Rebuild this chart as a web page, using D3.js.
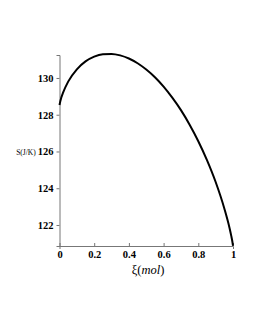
<!DOCTYPE html>
<html>
<head>
<meta charset="utf-8">
<script src="https://cdn.jsdelivr.net/npm/d3@7"></script>
<style>
body { margin: 0; background: #fff; }
.tick text { font-family: "Liberation Serif", "Times New Roman", serif; font-weight: bold; font-size: 10.5px; fill: #000; }
.domain, .tick line { stroke: #777; }
</style>
</head>
<body>
<script>
// extent of reaction (mol) and entropy S (J/K)
var xi = [0, 0.005, 0.01, 0.02, 0.05, 0.1, 0.15, 0.2, 0.25, 0.3, 0.35, 0.4, 0.45, 0.5,
    0.55, 0.6, 0.65, 0.7, 0.75, 0.8, 0.85, 0.9, 0.95, 0.98, 0.99, 0.995, 1];
var entropy = [128.53, 128.75, 128.92, 129.19, 129.80, 130.47, 130.90, 131.16, 131.29, 131.31,
    131.23, 131.06, 130.80, 130.46, 130.04, 129.53, 128.93, 128.25, 127.46, 126.56,
    125.53, 124.34, 122.90, 121.84, 121.41, 121.17, 120.87];

var xTicks = [0, 0.2, 0.4, 0.6, 0.8, 1];
var yTicks = [122, 124, 126, 128, 130];

function init() {
    var w = 255;
    var h = 330;

    var svg = d3.select("body").append("svg").attr("width", w).attr("height", h);

    var xScale = d3.scaleLinear().domain([0, 1]).range([59.5, 233]);
    var yScale = d3.scaleLinear().domain([120.857, 131.25]).range([246, 55]);

    var data = xi.map(function (d, i) { return { x: d, s: entropy[i] }; });

    var xAxis = d3.axisBottom(xScale).tickValues(xTicks).tickSize(3).tickPadding(2)
        .tickFormat(function (d) { return d3.format("")(d); });
    var yAxis = d3.axisLeft(yScale).tickValues(yTicks).tickSize(3).tickPadding(3);

    svg.append("g")
        .attr("transform", "translate(0,246)")
        .call(xAxis)
        .call(function (g) { g.selectAll(".tick line").attr("y2", -3); });

    svg.append("g")
        .attr("transform", "translate(59.5,0)")
        .call(yAxis);

    svg.selectAll(".domain").attr("stroke", "#666");

    var line = d3.line()
        .x(function (d) { return xScale(d.x); })
        .y(function (d) { return yScale(d.s); })
        .curve(d3.curveMonotoneX);

    svg.append("path")
        .datum(data)
        .attr("fill", "none")
        .attr("stroke", "#000")
        .attr("stroke-width", 2)
        .attr("d", line);

    // axis labels
    svg.append("text")
        .attr("x", 26)
        .attr("y", 155)
        .attr("text-anchor", "middle")
        .style("font-family", "Liberation Serif, serif")
        .style("font-size", "7.5px")
        .text("S(J/K)");

    var xl = svg.append("text")
        .attr("x", 148)
        .attr("y", 274)
        .attr("text-anchor", "middle")
        .style("font-family", "Liberation Serif, serif")
        .style("font-size", "12.5px");
    xl.append("tspan").text("ξ(");
    xl.append("tspan").style("font-style", "italic").text("mol");
    xl.append("tspan").text(")");
}

window.onload = init;
</script>
</body>
</html>
